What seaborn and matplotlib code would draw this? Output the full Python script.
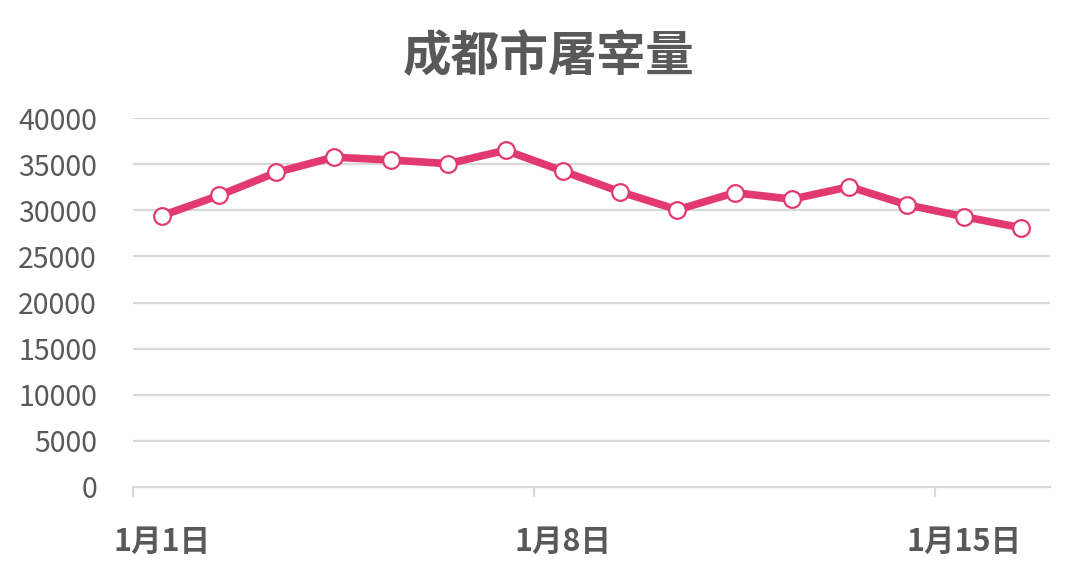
import numpy as np
import pandas as pd
import matplotlib
matplotlib.use('Agg')
import matplotlib.pyplot as plt
import seaborn as sns

days = ['1月%d日' % d for d in range(1, 17)]
values = [29400, 31600, 34100, 35750, 35450, 35050, 36500, 34250,
          32000, 30050, 31900, 31200, 32550, 30600, 29300, 28100]
yticks = [0, 5000, 10000, 15000, 20000, 25000, 30000, 35000, 40000]

sns.set_theme(style='white')
plt.rcParams['font.family'] = ['Noto Sans CJK SC', 'DejaVu Sans']

df = pd.DataFrame({'idx': np.arange(len(days)), 'day': days, 'value': values})

fig = plt.figure(figsize=(10.8, 5.71), dpi=100)
ax = fig.add_axes([133/1080, 1-487/571, (1050-133)/1080, (487-118)/571])

grey = '#595959'
line_c = '#E23A6E'
grid_c = '#D9D9D9'

for y in yticks[1:]:
    ax.axhline(y, color=grid_c, lw=1.6, zorder=0)

sns.lineplot(data=df, x='idx', y='value', ax=ax, color=line_c, lw=5.5,
             marker='o', markersize=12, markerfacecolor='white',
             markeredgecolor=line_c, markeredgewidth=1.6, zorder=3)

ax.set_xlim(-0.5, len(days) - 0.5)
ax.set_ylim(0, 40000)
ax.set_yticks(yticks)
ax.set_yticklabels([str(v) for v in yticks], fontsize=20.5, color=grey)
ax.tick_params(axis='y', length=0, pad=26)

lab_pos = [0, 7, 14]
ax.set_xticks(lab_pos)
ax.set_xticklabels([days[i] for i in lab_pos], fontsize=22, fontweight='bold', color=grey)
ax.set_xticks([-0.5, 6.5, 13.5], minor=True)
ax.tick_params(axis='x', which='major', length=0, pad=28)
ax.tick_params(axis='x', which='minor', length=7, width=1.6, color=grid_c, bottom=True)

for s in ['top', 'right', 'left']:
    ax.spines[s].set_visible(False)
ax.spines['bottom'].set_color(grid_c)
ax.spines['bottom'].set_linewidth(1.6)
ax.set_xlabel('')
ax.set_ylabel('')

fig.text(549/1080, 1-57/571, '成都市屠宰量', ha='center', va='center',
         fontsize=35, fontweight='bold', color=grey)

fig.savefig('out.png', dpi=100)
